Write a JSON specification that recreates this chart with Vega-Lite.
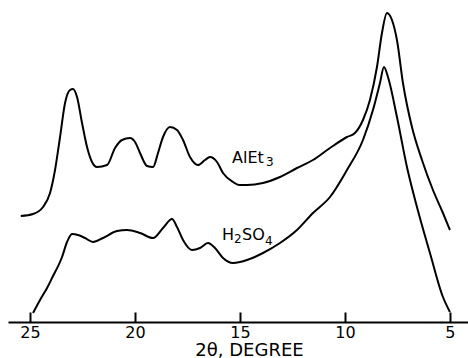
{
  "$schema": "https://vega.github.io/schema/vega-lite/v6.json",
  "width": 460,
  "height": 322,
  "autosize": "none",
  "padding": {"left": 8, "right": 0, "top": 0, "bottom": 36},
  "background": "white",
  "config": {"view": {"stroke": null}},
  "datasets": {
    "curves": [
      {"series": "AlEt3", "deg": 25.443, "intensity": 106},
      {"series": "AlEt3", "deg": 24.857, "intensity": 108},
      {"series": "AlEt3", "deg": 24.381, "intensity": 115},
      {"series": "AlEt3", "deg": 24.048, "intensity": 129},
      {"series": "AlEt3", "deg": 23.81, "intensity": 152},
      {"series": "AlEt3", "deg": 23.571, "intensity": 185},
      {"series": "AlEt3", "deg": 23.333, "intensity": 219},
      {"series": "AlEt3", "deg": 23.095, "intensity": 232},
      {"series": "AlEt3", "deg": 22.952, "intensity": 233},
      {"series": "AlEt3", "deg": 22.762, "intensity": 225},
      {"series": "AlEt3", "deg": 22.524, "intensity": 199},
      {"series": "AlEt3", "deg": 22.286, "intensity": 175},
      {"series": "AlEt3", "deg": 22.048, "intensity": 160},
      {"series": "AlEt3", "deg": 21.81, "intensity": 155},
      {"series": "AlEt3", "deg": 21.333, "intensity": 157},
      {"series": "AlEt3", "deg": 20.952, "intensity": 174},
      {"series": "AlEt3", "deg": 20.619, "intensity": 182},
      {"series": "AlEt3", "deg": 20.238, "intensity": 184},
      {"series": "AlEt3", "deg": 20.0, "intensity": 180},
      {"series": "AlEt3", "deg": 19.762, "intensity": 169},
      {"series": "AlEt3", "deg": 19.429, "intensity": 156},
      {"series": "AlEt3", "deg": 19.143, "intensity": 155},
      {"series": "AlEt3", "deg": 18.905, "intensity": 169},
      {"series": "AlEt3", "deg": 18.667, "intensity": 185},
      {"series": "AlEt3", "deg": 18.333, "intensity": 195},
      {"series": "AlEt3", "deg": 18.0, "intensity": 192},
      {"series": "AlEt3", "deg": 17.714, "intensity": 182},
      {"series": "AlEt3", "deg": 17.381, "intensity": 165},
      {"series": "AlEt3", "deg": 17.0, "intensity": 157},
      {"series": "AlEt3", "deg": 16.667, "intensity": 162},
      {"series": "AlEt3", "deg": 16.429, "intensity": 165},
      {"series": "AlEt3", "deg": 16.095, "intensity": 160},
      {"series": "AlEt3", "deg": 15.81, "intensity": 149},
      {"series": "AlEt3", "deg": 15.333, "intensity": 140},
      {"series": "AlEt3", "deg": 15.048, "intensity": 137},
      {"series": "AlEt3", "deg": 14.667, "intensity": 137},
      {"series": "AlEt3", "deg": 13.905, "intensity": 139},
      {"series": "AlEt3", "deg": 13.095, "intensity": 145},
      {"series": "AlEt3", "deg": 12.286, "intensity": 154},
      {"series": "AlEt3", "deg": 11.524, "intensity": 162},
      {"series": "AlEt3", "deg": 10.714, "intensity": 174},
      {"series": "AlEt3", "deg": 9.905, "intensity": 185},
      {"series": "AlEt3", "deg": 9.524, "intensity": 189},
      {"series": "AlEt3", "deg": 9.143, "intensity": 202},
      {"series": "AlEt3", "deg": 8.81, "intensity": 222},
      {"series": "AlEt3", "deg": 8.476, "intensity": 255},
      {"series": "AlEt3", "deg": 8.238, "intensity": 289},
      {"series": "AlEt3", "deg": 8.0, "intensity": 309},
      {"series": "AlEt3", "deg": 7.762, "intensity": 302},
      {"series": "AlEt3", "deg": 7.524, "intensity": 282},
      {"series": "AlEt3", "deg": 7.238, "intensity": 239},
      {"series": "AlEt3", "deg": 6.81, "intensity": 195},
      {"series": "AlEt3", "deg": 6.333, "intensity": 162},
      {"series": "AlEt3", "deg": 5.81, "intensity": 132},
      {"series": "AlEt3", "deg": 5.333, "intensity": 109},
      {"series": "AlEt3", "deg": 5.0, "intensity": 92},
      {"series": "H2SO4", "deg": 24.857, "intensity": 9},
      {"series": "H2SO4", "deg": 24.524, "intensity": 22},
      {"series": "H2SO4", "deg": 24.19, "intensity": 34},
      {"series": "H2SO4", "deg": 23.952, "intensity": 44},
      {"series": "H2SO4", "deg": 23.476, "intensity": 65},
      {"series": "H2SO4", "deg": 23.238, "intensity": 80},
      {"series": "H2SO4", "deg": 23.0, "intensity": 88},
      {"series": "H2SO4", "deg": 22.714, "intensity": 87},
      {"series": "H2SO4", "deg": 22.381, "intensity": 84},
      {"series": "H2SO4", "deg": 22.0, "intensity": 80},
      {"series": "H2SO4", "deg": 21.524, "intensity": 84},
      {"series": "H2SO4", "deg": 20.857, "intensity": 91},
      {"series": "H2SO4", "deg": 20.381, "intensity": 92},
      {"series": "H2SO4", "deg": 19.762, "intensity": 89},
      {"series": "H2SO4", "deg": 19.143, "intensity": 84},
      {"series": "H2SO4", "deg": 18.667, "intensity": 94},
      {"series": "H2SO4", "deg": 18.238, "intensity": 103},
      {"series": "H2SO4", "deg": 18.0, "intensity": 95},
      {"series": "H2SO4", "deg": 17.714, "intensity": 82},
      {"series": "H2SO4", "deg": 17.286, "intensity": 72},
      {"series": "H2SO4", "deg": 16.905, "intensity": 74},
      {"series": "H2SO4", "deg": 16.524, "intensity": 79},
      {"series": "H2SO4", "deg": 16.19, "intensity": 74},
      {"series": "H2SO4", "deg": 15.81, "intensity": 64},
      {"series": "H2SO4", "deg": 15.333, "intensity": 59},
      {"series": "H2SO4", "deg": 15.0, "intensity": 60},
      {"series": "H2SO4", "deg": 14.667, "intensity": 62},
      {"series": "H2SO4", "deg": 13.905, "intensity": 69},
      {"series": "H2SO4", "deg": 13.095, "intensity": 79},
      {"series": "H2SO4", "deg": 12.286, "intensity": 92},
      {"series": "H2SO4", "deg": 11.524, "intensity": 109},
      {"series": "H2SO4", "deg": 10.714, "intensity": 125},
      {"series": "H2SO4", "deg": 9.905, "intensity": 152},
      {"series": "H2SO4", "deg": 9.143, "intensity": 182},
      {"series": "H2SO4", "deg": 8.667, "intensity": 212},
      {"series": "H2SO4", "deg": 8.333, "intensity": 239},
      {"series": "H2SO4", "deg": 8.143, "intensity": 255},
      {"series": "H2SO4", "deg": 7.952, "intensity": 245},
      {"series": "H2SO4", "deg": 7.524, "intensity": 205},
      {"series": "H2SO4", "deg": 7.048, "intensity": 155},
      {"series": "H2SO4", "deg": 6.571, "intensity": 115},
      {"series": "H2SO4", "deg": 5.952, "intensity": 69},
      {"series": "H2SO4", "deg": 5.333, "intensity": 25},
      {"series": "H2SO4", "deg": 5.0, "intensity": 10}
    ],
    "mainText": [
      {"label": "AlEt", "deg": 15.381, "intensity": 159},
      {"label": "H", "deg": 15.857, "intensity": 82},
      {"label": "SO", "deg": 14.905, "intensity": 82}
    ],
    "subText": [
      {"label": "3", "deg": 13.762, "intensity": 156},
      {"label": "2", "deg": 15.286, "intensity": 79},
      {"label": "4", "deg": 13.81, "intensity": 77}
    ]
  },
  "layer": [
    {
      "data": {"name": "curves"},
      "mark": {"type": "line", "color": "black", "strokeWidth": 2, "strokeJoin": "round", "interpolate": "monotone"},
      "encoding": {
        "x": {
          "field": "deg",
          "type": "quantitative",
          "scale": {"domain": [4.14, 26.05], "reverse": true, "nice": false, "zero": false},
          "axis": {
            "values": [25, 20, 15, 10, 5],
            "title": "2θ, DEGREE",
            "grid": false,
            "domainColor": "black",
            "domainWidth": 2,
            "tickColor": "black",
            "tickWidth": 2,
            "tickSize": -10,
            "labelPadding": 12,
            "labelFont": "DejaVu Sans",
            "labelFontSize": 16,
            "labelColor": "black",
            "labelBaseline": "top",
            "titleFont": "DejaVu Sans",
            "titleFontSize": 18,
            "titleFontWeight": "normal",
            "titleColor": "black",
            "titleX": 241,
            "titleY": 33,
            "titleBaseline": "alphabetic",
            "titleAlign": "center"
          }
        },
        "y": {
          "field": "intensity",
          "type": "quantitative",
          "scale": {"domain": [0, 322], "nice": false},
          "axis": null
        },
        "detail": {"field": "series"}
      }
    },
    {
      "data": {"name": "mainText"},
      "mark": {"type": "text", "font": "DejaVu Sans", "fontSize": 16, "color": "black", "align": "left", "baseline": "alphabetic"},
      "encoding": {
        "x": {"field": "deg", "type": "quantitative"},
        "y": {"field": "intensity", "type": "quantitative"},
        "text": {"field": "label"}
      }
    },
    {
      "data": {"name": "subText"},
      "mark": {"type": "text", "font": "DejaVu Sans", "fontSize": 12, "color": "black", "align": "left", "baseline": "alphabetic"},
      "encoding": {
        "x": {"field": "deg", "type": "quantitative"},
        "y": {"field": "intensity", "type": "quantitative"},
        "text": {"field": "label"}
      }
    }
  ]
}
